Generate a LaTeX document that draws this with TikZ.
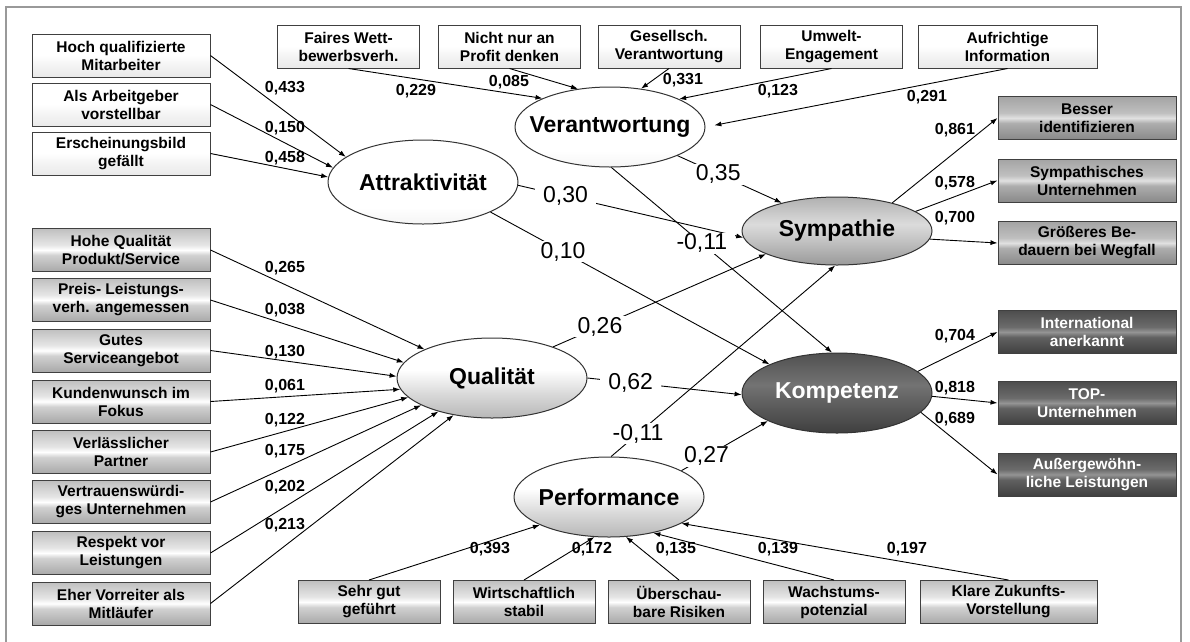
\documentclass[tikz,border=0pt]{standalone}
\usepackage{fontspec}
\setmainfont{Liberation Sans}
\usetikzlibrary{arrows.meta,shapes.geometric}

% shadings (colours from bottom to top)
\pgfdeclareverticalshading{paleshade}{100bp}{color(0bp)=(black!16); color(40bp)=(black!4); color(50bp)=(white); color(100bp)=(white)}
\pgfdeclareverticalshading{metalshade}{100bp}{color(0bp)=(black!55); color(44bp)=(black!18); color(50bp)=(white); color(56bp)=(black!10); color(100bp)=(black!45)}
\pgfdeclareverticalshading{darkmetal}{100bp}{color(0bp)=(black!65); color(44bp)=(black!32); color(50bp)=(black!12); color(56bp)=(black!25); color(100bp)=(black!50)}
\pgfdeclareverticalshading{blackmetal}{100bp}{color(0bp)=(black!92); color(44bp)=(black!62); color(50bp)=(black!42); color(56bp)=(black!58); color(100bp)=(black!85)}
\pgfdeclareverticalshading{latwhite}{100bp}{color(0bp)=(black!14); color(35bp)=(white); color(100bp)=(white)}
\pgfdeclareverticalshading{latgrey}{100bp}{color(0bp)=(black!50); color(40bp)=(black!15); color(55bp)=(white); color(100bp)=(white)}
\pgfdeclareverticalshading{latmid}{100bp}{color(0bp)=(black!62); color(45bp)=(black!22); color(55bp)=(black!14); color(100bp)=(black!52)}
\pgfdeclareverticalshading{latdark}{100bp}{color(0bp)=(black!92); color(45bp)=(black!62); color(55bp)=(black!55); color(100bp)=(black!85)}

\newcommand{\lv}[1]{\makebox[0pt]{#1}}

\tikzset{
  ind/.style={draw=black!75, line width=1pt, shade, minimum width=178pt, minimum height=43pt,
    inner sep=0pt, align=center, font=\fontsize{15.5}{18}\selectfont\bfseries},
  palebox/.style={ind, shading=paleshade},
  metalbox/.style={ind, shading=metalshade},
  darkbox/.style={ind, shading=darkmetal},
  blackbox/.style={ind, shading=blackmetal, text=white},
  lat/.style={ellipse, draw=black!80, line width=1pt, shade, minimum width=190pt,
    minimum height=80pt, inner sep=0pt, font=\fontsize{23}{27}\selectfont\bfseries},
  arr/.style={-{Latex[length=7pt,width=5pt]}, line width=0.9pt},
  lbl/.style={inner sep=1pt, font=\fontsize{16}{18}\selectfont\bfseries},
  slbl/.style={fill=white, inner xsep=8pt, inner ysep=1pt, font=\fontsize{23}{26}\selectfont}
}

\begin{document}
\begin{tikzpicture}[x=1pt,y=-1pt]
\useasboundingbox (0,0) rectangle (1190,641);
% frame
\draw[black!40, line width=1.5pt] (6,7) rectangle (1181,660);

% latent variables
\node[lat, shading=latwhite, minimum height=84pt] (attr) at (423,182) {\lv{Attraktivität}};
\node[lat, shading=latwhite] (ver) at (610,127) {\lv{Verantwortung}};
\node[lat, shading=latgrey] (qual) at (492,378) {\lv{Qualität}};
\node[lat, shading=latgrey] (perf) at (609,497) {\lv{Performance}};
\node[lat, shading=latmid, minimum height=68pt] (sym) at (837,231) {\lv{Sympathie}};
\node[lat, shading=latdark, text=white] (komp) at (837,393) {\lv{Kompetenz}};

% indicators Attraktivitaet
\foreach \i/\y/\txt in {1/55.5/{Hoch qualifizierte\\Mitarbeiter}, 2/104.5/{Als Arbeitgeber\\vorstellbar}, 3/153.5/{Erscheinungsbild\\gefällt}}
  \node[palebox] (a\i) at (121,\y) {\txt};

% indicators Verantwortung
\foreach \i/\x/\txt in {1/348.5/{Faires Wett-\\bewerbsverh.}, 2/509.5/{Nicht nur an\\Profit denken}, 3/669/{Gesellsch.\\Verantwortung}, 4/831.5/{Umwelt-\\Engagement}}
  \node[palebox, minimum width=142pt] (v\i) at (\x,46.5) {\txt};
\node[palebox, minimum width=179pt] (v5) at (1007.5,46.5) {Aufrichtige\\Information};

% indicators Qualitaet
\foreach \i/\y/\txt in {1/250/{Hohe Qualität\\Produkt/Service}, 2/300/{Preis- Leistungs-\\verh. angemessen}, 3/350.5/{Gutes\\Serviceangebot}, 4/401.5/{Kundenwunsch im\\Fokus}, 5/452/{Verlässlicher\\Partner}, 6/502/{Vertrauenswürdi-\\ges Unternehmen}, 7/553/{Respekt vor\\Leistungen}, 8/603.5/{Eher Vorreiter als\\Mitläufer}}
  \node[metalbox] (q\i) at (121,\y) {\txt};

% indicators Performance
\foreach \i/\x/\txt in {1/369/{Sehr gut\\geführt}, 2/524/{Wirtschaftlich\\stabil}, 3/679/{Überschau-\\bare Risiken}, 4/834/{Wachstums-\\potenzial}}
  \node[metalbox, minimum width=142pt] (p\i) at (\x,602) {\txt};
\node[metalbox, minimum width=177pt] (p5) at (1008.5,602) {Klare Zukunfts-\\Vorstellung};

% indicators Sympathie and Kompetenz
\foreach \i/\y/\txt in {1/118/{Besser\\identifizieren}, 2/180.5/{Sympathisches\\Unternehmen}, 3/243/{Größeres Be-\\dauern bei Wegfall}}
  \node[darkbox] (s\i) at (1087,\y) {\txt};
\foreach \i/\y/\txt in {1/332/{International\\anerkannt}, 2/403/{TOP-\\Unternehmen}, 3/474.5/{Außergewöhn-\\liche Leistungen}}
  \node[blackbox] (k\i) at (1087,\y) {\txt};

% measurement arrows
\foreach \i/\a in {1/162, 2/171, 3/177}
  \draw[arr] (a\i.east) -- (attr.\a);
\foreach \i/\a in {1/157, 2/130, 3/51, 4/22}
  \draw[arr] (v\i.south) -- (ver.\a);
\draw[arr, shorten >=9pt] (v5.south) -- (ver.0);
\foreach \i/\a in {1/157, 2/170, 3/179, 4/187, 5/193, 6/201, 7/212, 8/224}
  \draw[arr] (q\i.east) -- (qual.\a);
\foreach \i/\a in {1/202, 2/250, 3/293, 4/321, 5/340}
  \draw[arr] (p\i.north) -- (perf.\a);
\foreach \i/\a in {1/27, 2/14, 3/355}
  \draw[arr] (sym.\a) -- (s\i.west);
\foreach \i/\a in {1/15, 2/358, 3/347}
  \draw[arr] (komp.\a) -- (k\i.west);

% loadings
\foreach \n/\x/\y/\t in {la1/285/88/{0,433}, la2/285/128/{0,150}, la3/285/158/{0,458},
    lv1/416/91/{0,229}, lv2/509/82/{0,085}, lv3/683/80/{0,331}, lv4/778/91/{0,123}, lv5/927/97/{0,291},
    lq1/285/268/{0,265}, lq2/285/310/{0,038}, lq3/285/352/{0,130}, lq4/285/386/{0,061},
    lq5/285/420/{0,122}, lq6/285/451/{0,175}, lq7/285/487/{0,202}, lq8/285/525/{0,213},
    lp1/490/549/{0,393}, lp2/592/549/{0,172}, lp3/676/549/{0,135}, lp4/778/549/{0,139}, lp5/907/549/{0,197},
    ls1/955/130/{0,861}, ls2/955/183/{0,578}, ls3/955/218/{0,700},
    lk1/955/336/{0,704}, lk2/955/388/{0,818}, lk3/955/419/{0,689}}
  \node[lbl] (\n) at (\x,\y) {\t};

% structural paths
\draw[arr] (attr.358) -- node[slbl, pos=0.21] (c1) {0,30} (sym.184);
\draw[arr] (attr.336) -- node[slbl, pos=0.26] (c2) {0,10} (komp.157);
\draw[arr] (ver.337) -- node[slbl, pos=0.39] (c3) {0,35} (sym.153);
\draw[arr] (ver.272) -- node[slbl, pos=0.41] (c4) {-0,11} (komp.97);
\draw[arr] (qual.27) -- node[slbl, pos=0.22] (c5) {0,26} (sym.198);
\draw[arr] (qual.0) -- node[slbl, pos=0.28] (c6) {0,62} (komp.181);
\draw[arr] (perf.87) -- node[slbl, pos=0.12] (c7) {-0,11} (sym.267);
\draw[arr] (perf.20) -- node[slbl, pos=0.29] (c8) {0,27} (komp.202);
\end{tikzpicture}
\end{document}
